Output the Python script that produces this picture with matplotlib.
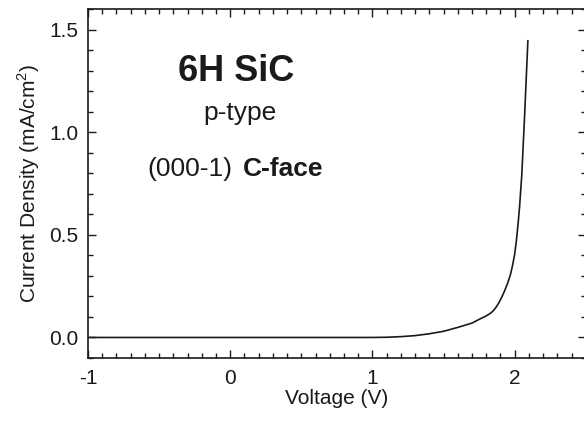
import matplotlib.pyplot as plt
from matplotlib.ticker import MultipleLocator

# J-V curve
voltage = [-1.0, 0.0, 0.5, 1.0, 1.1, 1.2, 1.3, 1.4, 1.5, 1.6, 1.7, 1.75, 1.8,
           1.83, 1.85, 1.87, 1.89, 1.91, 1.93, 1.95, 1.97, 1.985, 2.0, 2.012,
           2.025, 2.035, 2.05, 2.07, 2.093]
current = [0.0, 0.0, 0.0, 0.0, 0.001, 0.004, 0.009, 0.018, 0.03, 0.049, 0.07,
           0.088, 0.105, 0.118, 0.13, 0.148, 0.17, 0.197, 0.228, 0.263, 0.305,
           0.35, 0.405, 0.47, 0.56, 0.64, 0.79, 1.08, 1.445]

plt.rcParams['font.family'] = ['Liberation Sans', 'DejaVu Sans']
plt.rcParams['mathtext.fontset'] = 'custom'
plt.rcParams['mathtext.rm'] = 'Liberation Sans'

ink = '#1a1a1a'

fig = plt.figure(figsize=(5.84, 4.23), dpi=100)
ax = fig.add_axes([0.1507, 0.1537, 0.8523, 0.825])

ax.plot(voltage, current, color=ink, lw=1.2)

ax.set_xlim(-1, 2.5)
ax.set_ylim(-0.1, 1.6)
ax.xaxis.set_major_locator(MultipleLocator(1))
ax.xaxis.set_minor_locator(MultipleLocator(0.1))
ax.yaxis.set_major_locator(MultipleLocator(0.5))
ax.yaxis.set_minor_locator(MultipleLocator(0.1))
ax.xaxis.set_major_formatter(plt.FuncFormatter(lambda v, p: '%d' % v))
ax.yaxis.set_major_formatter(plt.FuncFormatter(lambda v, p: '%.1f' % v))

ax.tick_params(which='both', direction='in', top=True, right=True,
               color=ink, labelcolor=ink, labelsize=15, width=1.0)
ax.tick_params(which='major', length=6)
ax.tick_params(which='minor', length=3.5)
ax.tick_params(axis='x', pad=8)
ax.tick_params(axis='y', pad=7)
for s in ax.spines.values():
    s.set_color(ink)
    s.set_linewidth(1.2)

ax.set_xlabel('Voltage (V)', fontsize=15, color=ink, labelpad=1)
ax.set_ylabel('Current Density (mA/cm$^2$)', fontsize=15, color=ink, labelpad=5)

# annotations
ax.text(0.045, 1.295, '6H SiC', fontsize=26, fontweight='bold', color=ink,
        ha='center', va='center')
ax.text(0.065, 1.095, 'p-type', fontsize=19, color=ink, ha='center', va='center')
t1 = ax.text(-0.585, 0.82, '(000-1)', fontsize=19, color=ink, ha='left', va='center')
ax.annotate('C-face', xy=(1, 0), xycoords=t1, xytext=(8, 0),
            textcoords='offset points', fontsize=19, fontweight='bold',
            color=ink, ha='left', va='bottom')

fig.savefig('out.png', dpi=100)
